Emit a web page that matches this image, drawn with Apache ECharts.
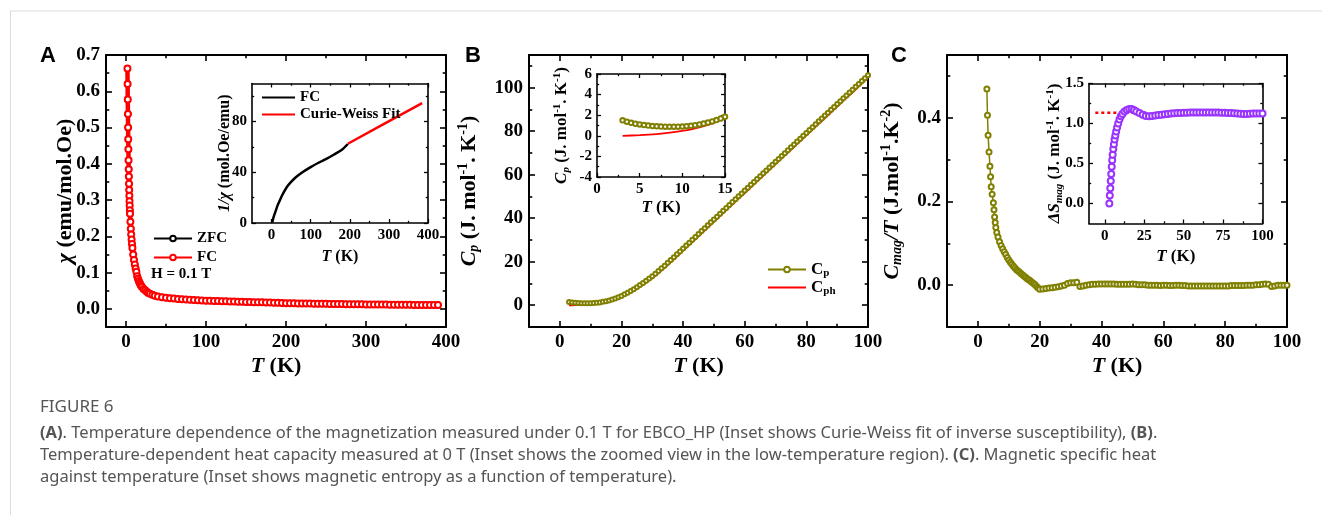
<!DOCTYPE html>
<html><head><meta charset="utf-8">
<script src="https://cdn.jsdelivr.net/npm/echarts@6/dist/echarts.min.js"></script>
<style>html,body{margin:0;padding:0;background:#fff}#c{width:1322px;height:515px}</style>
</head><body><div id="c"></div>
<script>
// ---------- Panel A : susceptibility ----------
const chiT = [1.8,2.0,2.2,2.4,2.6,2.8,3.0,3.2,3.4,3.6,3.8,4.0,4.2,4.4,4.6,4.8,5.0,5.5,6.0,6.5,7.0,7.5,8,9,10,11,12,13,14,15,16,17,18,19,20,22,24,26,28,30,33,36,40,45,
 50,55,60,65,70,75,80,85,90,95,100,105,110,115,120,125,130,135,140,145,150,155,160,165,170,175,180,185,190,195,200,205,210,215,220,225,230,235,240,245,250,255,260,265,270,275,280,285,290,295,300,305,310,315,320,325,330,335,340,345,350,355,360,365,370,375,380,385,390];
const chiFC = [0.663,0.620,0.577,0.537,0.500,0.468,0.440,0.410,0.385,0.365,0.345,0.328,0.312,0.297,0.285,0.272,0.262,0.240,0.221,0.205,0.191,0.179,0.168,0.150,0.135,0.122,0.111,0.102,0.090,0.083,0.077,0.072,0.067,0.063,0.060,0.055,0.051,0.047,0.044,0.042,0.039,0.036,0.034,0.032,
 0.0308,0.0295,0.0283,0.0272,0.0263,0.0256,0.0249,0.0243,0.0237,0.0232,0.0227,0.0223,0.0219,0.0215,0.0211,0.0208,0.0204,0.0201,0.0198,0.0195,0.0191,0.0188,0.0185,0.0182,0.0179,0.0176,0.0173,0.0170,0.0166,0.0162,0.0158,0.0156,0.0153,0.0151,0.0149,0.0147,0.0145,0.0143,0.0141,0.0139,0.0138,0.0136,0.0134,0.0133,0.0131,0.0130,0.0128,0.0127,0.0126,0.0124,0.0123,0.0122,0.0121,0.0119,0.0118,0.0117,0.0116,0.0115,0.0114,0.0113,0.0112,0.0111,0.0110,0.0109,0.0108,0.0107,0.0106,0.0105,0.0104];
const chiZFC = chiFC.slice(); // ZFC coincides with FC (hidden below it)
// inset A : inverse susceptibility
const invT   = [1.8,5,10,15,20,25,30,40,50,60,70,80,100,120,140,160,180,195];
const invChi = [0.5,4.5,9,13.5,17,20.5,23.5,28.8,32.5,35.5,38,40.2,44,47.5,50.5,54,57.8,62.3];
const cwT    = [195,290,385];
const cwFit  = [62.5,78.5,94.5];

// ---------- Panel B : heat capacity ----------
const cpT = [3,4,5,6,7,8,9,10,11,12,13,14,15,16,17,18,19,20,21,22,23,24,25,26,27,28,29,30,31,32,33,34,35,36,37,38,39,40,41,42,43,44,45,46,47,48,49,50,51,52,53,54,55,56,57,58,59,60,61,62,63,64,65,66,67,68,69,70,71,72,73,74,75,76,77,78,79,80,81,82,83,84,85,86,87,88,89,90,91,92,93,94,95,96,97,98,99,100];
const cpVals = [1.50,1.25,1.10,1.00,0.93,0.90,0.90,0.92,1.00,1.12,1.30,1.55,1.85,2.22,2.65,3.15,3.70,4.30,5.00,5.75,6.55,7.40,8.30,9.25,10.25,11.25,12.25,13.30,14.50,15.70,16.95,18.20,19.50,20.80,22.10,23.40,24.75,26.10,27.40,28.75,30.10,31.40,32.75,34.10,35.40,36.75,38.10,39.40,40.70,42.05,43.40,44.70,46.05,47.40,48.70,50.05,51.35,52.70,54.00,55.35,56.65,58.00,59.30,60.65,61.95,63.30,64.60,65.95,67.25,68.60,69.90,71.25,72.55,73.90,75.20,76.55,77.85,79.20,80.50,81.85,83.15,84.50,85.80,87.15,88.45,89.80,91.10,92.45,93.75,95.10,96.40,97.75,99.05,100.40,101.70,103.05,104.35,105.70];
const cphT    = [3,5,7,9,11,13,15,17,20,25,30,35,40,45,50,55,60,65,70,75,80,85,90,95,100];
const cphVals = [0.00,0.06,0.17,0.35,0.62,1.05,1.70,2.50,3.90,7.60,12.40,18.50,25.10,31.70,38.40,45.00,51.60,58.20,64.90,71.50,78.10,84.70,91.30,97.90,104.50];
const cpLowT    = [3,3.5,4,4.5,5,5.5,6,6.5,7,7.5,8,8.5,9,9.5,10,10.5,11,11.5,12,12.5,13,13.5,14,14.5,15];
const cpLowVals = [1.50,1.37,1.26,1.17,1.10,1.04,0.99,0.95,0.92,0.90,0.89,0.88,0.88,0.89,0.90,0.93,0.97,1.03,1.10,1.19,1.29,1.40,1.53,1.68,1.85];

// ---------- Panel C : magnetic specific heat ----------
const cmT = [2.9,3.1,3.3,3.6,3.9,4.1,4.3,4.6,5.0,5.2,5.4,5.6,5.8,6.1,6.5,7.0,7.5,8.0,8.5,9.0,9.5,10,10.5,11,11.5,12,12.5,13,13.5,14,14.5,15,15.5,16,16.5,17,17.5,18,18.5,19,19.5,20,
 21,22,23,24,25,26,27,28,29,30,31,32,33,34,35,36,37,38,39,40,41,42,43,44,45,46,47,48,49,50,51,52,53,54,55,56,57,58,59,60,61,62,63,64,65,66,67,68,69,70,71,72,73,74,75,76,77,78,79,80,81,82,83,84,85,86,87,88,89,90,91,92,93,94,95,96,97,98,99,100];
const cmVals = [0.469,0.406,0.358,0.318,0.284,0.259,0.235,0.217,0.197,0.180,0.163,0.150,0.138,0.126,0.115,0.104,0.095,0.087,0.080,0.073,0.066,0.060,0.055,0.050,0.045,0.041,0.037,0.034,0.031,0.027,0.024,0.021,0.018,0.015,0.013,0.010,0.007,0.004,0.001,-0.003,-0.007,-0.010,
 -0.009,-0.008,-0.007,-0.006,-0.005,-0.004,-0.002,0.000,0.004,0.006,0.006,0.007,-0.003,-0.002,0.000,0.001,0.002,0.002,0.003,0.003,0.003,0.003,0.003,0.003,0.002,0.002,0.002,0.002,0.002,0.003,0.002,0.001,0.001,0.001,0.000,0.000,0.000,0.000,-0.001,0.000,0.000,-0.001,-0.001,0.000,0.000,-0.001,-0.001,-0.002,-0.002,-0.002,-0.002,-0.002,-0.002,-0.002,-0.002,-0.002,-0.002,-0.002,-0.002,-0.002,-0.002,-0.001,-0.001,-0.001,-0.001,-0.001,0.000,0.000,0.000,0.001,0.001,0.002,0.003,0.002,-0.003,-0.002,0.000,0.000,0.000,0.000];
// inset C : magnetic entropy
const dsT = [2.9,3.2,3.5,3.8,4.1,4.4,4.7,5.0,5.4,5.8,6.2,6.7,7.2,7.8,8.5,9.3,10.2,11.2,12.5,14,15.5,17,18.5,20,22,24,26,28,30,32,34,36,38,40,42,44,46,48,50,52,54,56,58,60,62,64,66,68,70,72,74,76,78,80,82,84,86,88,90,92,94,96,98,100];
const dsVals = [0,0.10,0.19,0.28,0.37,0.46,0.54,0.61,0.68,0.74,0.80,0.85,0.90,0.95,1.00,1.05,1.09,1.12,1.15,1.17,1.18,1.18,1.17,1.15,1.13,1.11,1.095,1.09,1.095,1.10,1.105,1.11,1.115,1.12,1.125,1.128,1.13,1.132,1.134,1.135,1.136,1.137,1.138,1.138,1.139,1.139,1.139,1.138,1.137,1.136,1.135,1.134,1.132,1.13,1.127,1.124,1.122,1.12,1.12,1.122,1.124,1.125,1.125,1.125];
const refX = [-6, 28];
const refY = [1.135, 1.135];

// ---------- tick values ----------
const ticksA  = {xMaj:[0,100,200,300,400], xMin:[50,150,250,350], yMaj:[0,0.1,0.2,0.3,0.4,0.5,0.6,0.7], yMin:[0.05,0.15,0.25,0.35,0.45,0.55,0.65]};
const ticksAi = {xMaj:[0,100,200,300,400], xMin:[50,150,250,350], yMaj:[0,40,80], yMin:[20,60,100]};
const ticksB  = {xMaj:[0,20,40,60,80,100], xMin:[10,30,50,70,90], yMaj:[0,20,40,60,80,100], yMin:[10,30,50,70,90,110]};
const ticksBi = {xMaj:[0,5,10,15], xMin:[2.5,7.5,12.5], yMaj:[-4,-2,0,2,4,6], yMin:[-3,-1,1,3,5]};
const ticksC  = {xMaj:[0,20,40,60,80,100], xMin:[10,30,50,70,90], yMaj:[0,0.2,0.4], yMin:[0.1,0.3,0.5]};
const ticksCi = {xMaj:[0,25,50,75,100], xMin:[12.5,37.5,62.5,87.5], yMaj:[0,0.5,1.0,1.5], yMin:[0.25,0.75,1.25]};

// ---------- build ----------
const SERIF = "'Liberation Serif','Times New Roman',serif";
const OLIVE = '#808000', RED = '#ff0000', PURPLE = '#9933ff';
const zip = (xs, ys) => xs.map((x, i) => [x, ys[i]]);
const grids = [], xAxes = [], yAxes = [];

function richFor(fs) {
  const s = Math.round(fs * 0.62);
  return {
    i:   {fontStyle:'italic', fontWeight:'bold', fontSize:fs, fontFamily:SERIF, color:'#000'},
    n:   {fontWeight:'bold', fontSize:fs, fontFamily:SERIF, color:'#000'},
    sup: {fontWeight:'bold', fontSize:s, fontFamily:SERIF, color:'#000', padding:[0,0,Math.round(fs*0.55),0]},
    isub:{fontStyle:'italic', fontWeight:'bold', fontSize:s, fontFamily:SERIF, color:'#000', padding:[Math.round(fs*0.45),0,0,0]},
    sub: {fontWeight:'bold', fontSize:s, fontFamily:SERIF, color:'#000', padding:[Math.round(fs*0.45),0,0,0]}
  };
}

function panel(g, o) {
  const gi = grids.length;
  grids.push({left:g[0], top:g[1], width:g[2], height:g[3], containLabel:false, outerBoundsMode:'none'});
  const lw = o.lw, tl = o.tl;
  const line = {show:true, onZero:false, lineStyle:{color:'#000', width:lw}};
  const noLine = {show:false, onZero:false};
  const tick = (vals, len) => ({show:true, inside:true, length:len, customValues:vals, lineStyle:{color:'#000', width:lw*0.8}});
  const lab = (vals, fmt) => ({show:true, customValues:vals, formatter:fmt, fontSize:o.fs, fontWeight:'bold', fontFamily:SERIF, color:'#000', margin:o.lm});
  const base = {type:'value', gridIndex:gi, splitLine:{show:false}};
  const xi = xAxes.length, yi = yAxes.length;
  const xr = {min:o.x[0], max:o.x[1]}, yr = {min:o.y[0], max:o.y[1]};
  xAxes.push(Object.assign({}, base, xr, {position:'bottom', axisLine:line, axisTick:tick(o.t.xMaj, tl), axisLabel:lab(o.t.xMaj, o.xf),
    name:'{i|T}{n| (K)}', nameLocation:'middle', nameGap:o.xg, nameMoveOverlap:false, nameTextStyle:{fontSize:o.nfs, fontWeight:'bold', fontFamily:SERIF, color:'#000', rich:richFor(o.nfs)}}));
  xAxes.push(Object.assign({}, base, xr, {position:'top', axisLine:line, axisTick:tick(o.t.xMaj, tl), axisLabel:{show:false}}));
  xAxes.push(Object.assign({}, base, xr, {position:'bottom', axisLine:noLine, axisTick:tick(o.t.xMin, tl*0.55), axisLabel:{show:false}}));
  xAxes.push(Object.assign({}, base, xr, {position:'top', axisLine:noLine, axisTick:tick(o.t.xMin, tl*0.55), axisLabel:{show:false}}));
  yAxes.push(Object.assign({}, base, yr, {position:'left', axisLine:line, axisTick:tick(o.t.yMaj, tl), axisLabel:lab(o.t.yMaj, o.yf),
    name:o.yn, nameLocation:'middle', nameRotate:90, nameGap:o.yg, nameMoveOverlap:false, nameTextStyle:{fontSize:o.nfs, fontWeight:'bold', fontFamily:SERIF, color:'#000', rich:richFor(o.nfs)}}));
  yAxes.push(Object.assign({}, base, yr, {position:'right', axisLine:line, axisTick:tick(o.t.yMaj, tl), axisLabel:{show:false}}));
  yAxes.push(Object.assign({}, base, yr, {position:'left', axisLine:noLine, axisTick:tick(o.t.yMin, tl*0.55), axisLabel:{show:false}}));
  yAxes.push(Object.assign({}, base, yr, {position:'right', axisLine:noLine, axisTick:tick(o.t.yMin, tl*0.55), axisLabel:{show:false}}));
  return {x:xi, y:yi};
}
const f1 = v => v.toFixed(1);
const f0 = v => String(v);

const pA  = panel([106,55,340,272],   {x:[-25,400], y:[-0.05,0.7], t:ticksA,  lw:2,   tl:6, fs:19, nfs:22, lm:6, xg:28, yg:30, xf:f0, yf:f1, yn:'{i|χ}{n| (emu/mol.Oe)}'});
const pAi = panel([252,83.5,176,139.5],{x:[-50,400], y:[0,110],     t:ticksAi, lw:1.6, tl:4, fs:15, nfs:16, lm:5, xg:26, yg:19, xf:f0, yf:f0, yn:'{i|1/χ}{n| (mol.Oe/emu)}'});
const pB  = panel([529,55,339,272],   {x:[-10,100], y:[-10,115],   t:ticksB,  lw:2,   tl:6, fs:19, nfs:22, lm:6, xg:28, yg:47, xf:f0, yf:f0, yn:'{i|C}{isub|p}{n| (J. mol}{sup|-1}{n|. K}{sup|-1}{n|)}'});
const pBi = panel([597,74,128,103],   {x:[0,15],    y:[-4,6],      t:ticksBi, lw:1.6, tl:4, fs:15, nfs:17, lm:5, xg:22, yg:25, xf:f0, yf:f0, yn:'{i|C}{isub|p}{n| (J. mol}{sup|-1}{n|. K}{sup|-1}{n|)}'});
const pC  = panel([947,55,340,272],   {x:[-10,100], y:[-0.1,0.55], t:ticksC,  lw:2,   tl:6, fs:19, nfs:22, lm:6, xg:28, yg:42, xf:f0, yf:f1, yn:'{i|C}{isub|mag}{i|/T}{n| (J.mol}{sup|-1}{n|.K}{sup|-2}{n|)}'});
const pCi = panel([1089,83.5,173.5,140],{x:[-10,100], y:[-0.25,1.5], t:ticksCi, lw:1.6, tl:4, fs:15, nfs:17, lm:5, xg:25, yg:24, xf:f0, yf:f1, yn:'{i|ΔS}{isub|mag}{n| (J. mol}{sup|-1}{n|. K}{sup|-1}{n|)}'});

const ser = (p, o) => Object.assign({type:'line', xAxisIndex:p.x, yAxisIndex:p.y, animation:false, clip:true}, o);
const series = [
  ser(pA, {name:'ZFC', data:zip(chiT, chiZFC), symbol:'emptyCircle', symbolSize:5, lineStyle:{color:'#000', width:2}, itemStyle:{color:'#000', borderWidth:1.2}, z:2}),
  ser(pA, {name:'FC', data:zip(chiT, chiFC), symbol:'emptyCircle', symbolSize:6, lineStyle:{color:RED, width:4.5}, itemStyle:{color:RED, borderWidth:1.6}, z:3}),
  ser(pAi, {name:'FC_in', data:zip(invT, invChi), symbol:'none', smooth:0.3, lineStyle:{color:'#000', width:2.5}, itemStyle:{color:'#000'}}),
  ser(pAi, {name:'Curie-Weiss Fit', data:zip(cwT, cwFit), symbol:'none', lineStyle:{color:RED, width:2.5}, itemStyle:{color:RED}}),
  ser(pB, {name:'Cp', data:zip(cpT, cpVals), symbol:'emptyCircle', symbolSize:4, lineStyle:{color:OLIVE, width:2.5}, itemStyle:{color:OLIVE, borderWidth:1}}),
  ser(pB, {name:'Cph', data:zip(cphT, cphVals), symbol:'none', smooth:0.2, lineStyle:{color:RED, width:2}, itemStyle:{color:RED}}),
  ser(pBi, {name:'Cp_in', data:zip(cpLowT, cpLowVals), symbol:'emptyCircle', symbolSize:4.5, lineStyle:{color:OLIVE, width:2.5}, itemStyle:{color:OLIVE, borderWidth:1.2}}),
  ser(pBi, {name:'Cph_in', data:zip(cphT, cphVals), symbol:'none', smooth:0.2, lineStyle:{color:RED, width:1.8}, itemStyle:{color:RED}}),
  ser(pC, {name:'Cmag', data:zip(cmT, cmVals), symbol:'emptyCircle', symbolSize:5, lineStyle:{color:OLIVE, width:1.5}, itemStyle:{color:OLIVE, borderWidth:1.5}}),
  ser(pCi, {name:'ref', data:zip(refX, refY), symbol:'none', lineStyle:{color:RED, width:2.5, type:[3,3]}, itemStyle:{color:RED}}),
  ser(pCi, {name:'dS', data:zip(dsT, dsVals), symbol:'emptyCircle', symbolSize:6, lineStyle:{color:PURPLE, width:2}, itemStyle:{color:PURPLE, borderWidth:1.8}})
];

const legTxt = (fs) => ({fontSize:fs, fontWeight:'bold', fontFamily:SERIF, color:'#000', rich:richFor(fs)});
const noSym = {opacity:0};
const legend = [
  {data:['ZFC','FC'], orient:'vertical', left:148, top:226, itemWidth:38, itemHeight:7, itemGap:4, textStyle:legTxt(15), selectedMode:false},
  {data:[{name:'FC_in', itemStyle:noSym}, {name:'Curie-Weiss Fit', itemStyle:noSym}], orient:'vertical', left:256, top:85, itemWidth:33, itemHeight:6, itemGap:2, textStyle:legTxt(15), selectedMode:false,
   formatter: n => n === 'FC_in' ? 'FC' : n},
  {data:['Cp', {name:'Cph', itemStyle:noSym}], orient:'vertical', left:762, top:256, itemWidth:38, itemHeight:7, itemGap:0, textStyle:legTxt(17), selectedMode:false,
   formatter: n => n === 'Cp' ? '{n|C}{sub|p}' : '{n|C}{sub|ph}'}
];

const CAPF = "'Noto Sans',sans-serif";
const cap = (fs) => ({fontSize:fs, fontFamily:CAPF, fill:'#555',
  rich:{b:{fontWeight:'bold', fontSize:fs, fontFamily:CAPF, fill:'#555', color:'#555'}}});
const graphic = [
  {type:'line', shape:{x1:10, y1:11, x2:1322, y2:11}, style:{stroke:'#dcdcdc', lineWidth:1}},
  {type:'line', shape:{x1:10.5, y1:11, x2:10.5, y2:515}, style:{stroke:'#dcdcdc', lineWidth:1}},
  {type:'text', left:40, top:45, style:{text:'A', font:"bold 22px 'Liberation Sans', Arial, sans-serif", fill:'#000'}},
  {type:'text', left:465, top:45, style:{text:'B', font:"bold 22px 'Liberation Sans', Arial, sans-serif", fill:'#000'}},
  {type:'text', left:891, top:45, style:{text:'C', font:"bold 22px 'Liberation Sans', Arial, sans-serif", fill:'#000'}},
  {type:'text', left:151, top:267, style:{text:'H = 0.1 T', font:"bold 15px 'Liberation Serif', serif", fill:'#000'}},
  {type:'text', left:40, top:399, style:Object.assign({text:'FIGURE 6'}, cap(17))},
  {type:'text', left:40, top:425, style:Object.assign({text:'{b|(A)}. Temperature dependence of the magnetization measured under 0.1 T for EBCO_HP (Inset shows Curie-Weiss fit of inverse susceptibility), {b|(B)}.'}, cap(16.5))},
  {type:'text', left:40, top:447, style:Object.assign({text:'Temperature-dependent heat capacity measured at 0 T (Inset shows the zoomed view in the low-temperature region). {b|(C)}. Magnetic specific heat'}, cap(16.5))},
  {type:'text', left:40, top:469, style:Object.assign({text:'against temperature (Inset shows magnetic entropy as a function of temperature).'}, cap(16.5))}
];

const chart = echarts.init(document.getElementById('c'), null, {renderer:'canvas'});
chart.setOption({backgroundColor:'#fff', animation:false, grid:grids, xAxis:xAxes, yAxis:yAxes, series, legend, graphic});
</script></body></html>
